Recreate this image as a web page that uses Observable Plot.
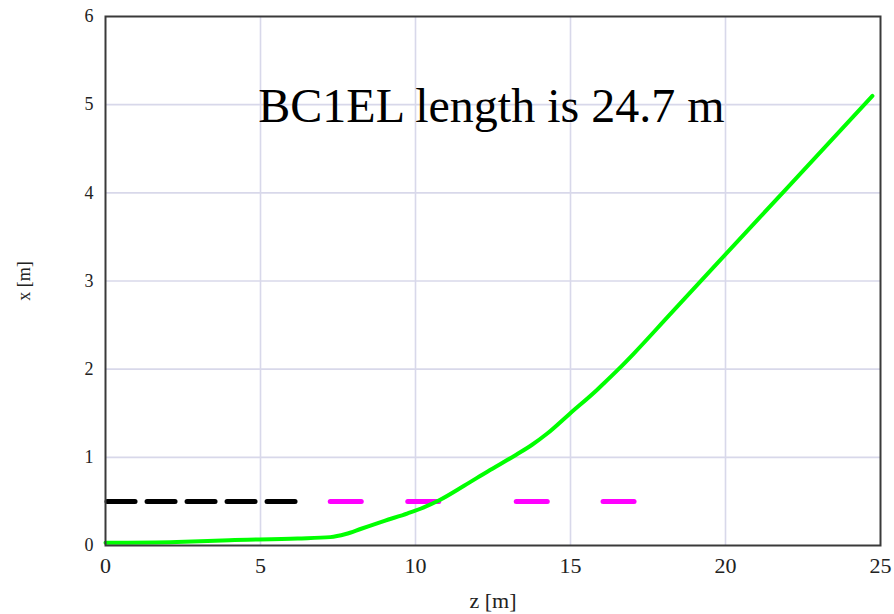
<!DOCTYPE html>
<html><head><meta charset="utf-8">
<script src="https://cdn.jsdelivr.net/npm/d3@7"></script>
<script src="https://cdn.jsdelivr.net/npm/@observablehq/plot@0.6"></script>
<style>body{margin:0;background:#fff}</style>
</head><body><div id="chart"></div>
<script>
// Green orbit x(z)
const orbitZ = [0, 2.3, 4.0, 6.2, 7.25, 7.75, 8.25, 9.0, 9.75, 10.25, 10.75, 11.58, 12.33, 13.25, 13.75, 14.25, 14.96, 15.87, 16.05, 16.55, 17.05, 18.18, 19.85, 22.0, 24.74];
const orbitX = [0.03, 0.04, 0.06, 0.08, 0.095, 0.13, 0.19, 0.28, 0.365, 0.43, 0.51, 0.68, 0.84, 1.03, 1.14, 1.27, 1.49, 1.77, 1.83, 2.0, 2.18, 2.61, 3.245, 4.06, 5.10];
// Black dashed element line
const driftZ = [0.05, 6.25];
const elementX = 0.5;
// Magenta dipoles
const dipoleStart = [7.25, 9.75, 13.25, 16.05];
const dipoleEnd = [8.25, 10.75, 14.25, 17.05];
// Ticks
const xTicks = [0, 5, 10, 15, 20, 25];
const yTicks = [0, 1, 2, 3, 4, 5, 6];
const annotation = "BC1EL length is 24.7 m";

const orbit = orbitZ.map((z, i) => ({z, x: orbitX[i]}));
const drift = driftZ.map(z => ({z, x: elementX}));
const dipoles = dipoleStart.map((s, i) => ({s, e: dipoleEnd[i], x: elementX}));

const chart = Plot.plot({
  width: 894, height: 614,
  marginLeft: 105, marginRight: 14, marginTop: 16, marginBottom: 69,
  style: {fontFamily: "'Liberation Serif', 'Times New Roman', serif", fontSize: "22px", color: "#222", background: "#fff"},
  x: {domain: [0, 25]},
  y: {domain: [0, 6]},
  marks: [
    Plot.gridX(xTicks.slice(1, -1), {stroke: "#d8d8ea", strokeOpacity: 1, strokeWidth: 1.6}),
    Plot.gridY(yTicks.slice(1, -1), {stroke: "#d8d8ea", strokeOpacity: 1, strokeWidth: 1.6}),
    Plot.axisX(xTicks, {tickSize: 0, tickPadding: 12, tickFormat: d3.format("d"), label: "z [m]", labelAnchor: "center", labelArrow: "none", labelOffset: 62}),
    Plot.axisY(yTicks, {tickSize: 0, tickPadding: 12, tickFormat: d3.format("d"), label: "x [m]", labelAnchor: "center", labelArrow: "none", labelOffset: 88, fontSize: 18}),
    Plot.line(drift, {x: "z", y: "x", stroke: "#000", strokeWidth: 5, strokeLinecap: "round", strokeDasharray: "28,12"}),
    Plot.link(dipoles, {x1: "s", x2: "e", y1: "x", y2: "x", stroke: "#ff00ff", strokeWidth: 5, strokeLinecap: "round"}),
    Plot.line(orbit, {x: "z", y: "x", stroke: "#00ff00", strokeWidth: 4, curve: "monotone-x"}),
    Plot.text([annotation], {x: 12.45, y: 4.98, text: d => d, fontSize: 48, fill: "#000", lineAnchor: "middle"}),
    Plot.frame({stroke: "#3a3a3a", strokeWidth: 2})
  ]
});
document.getElementById("chart").append(chart);
</script>
</body></html>
